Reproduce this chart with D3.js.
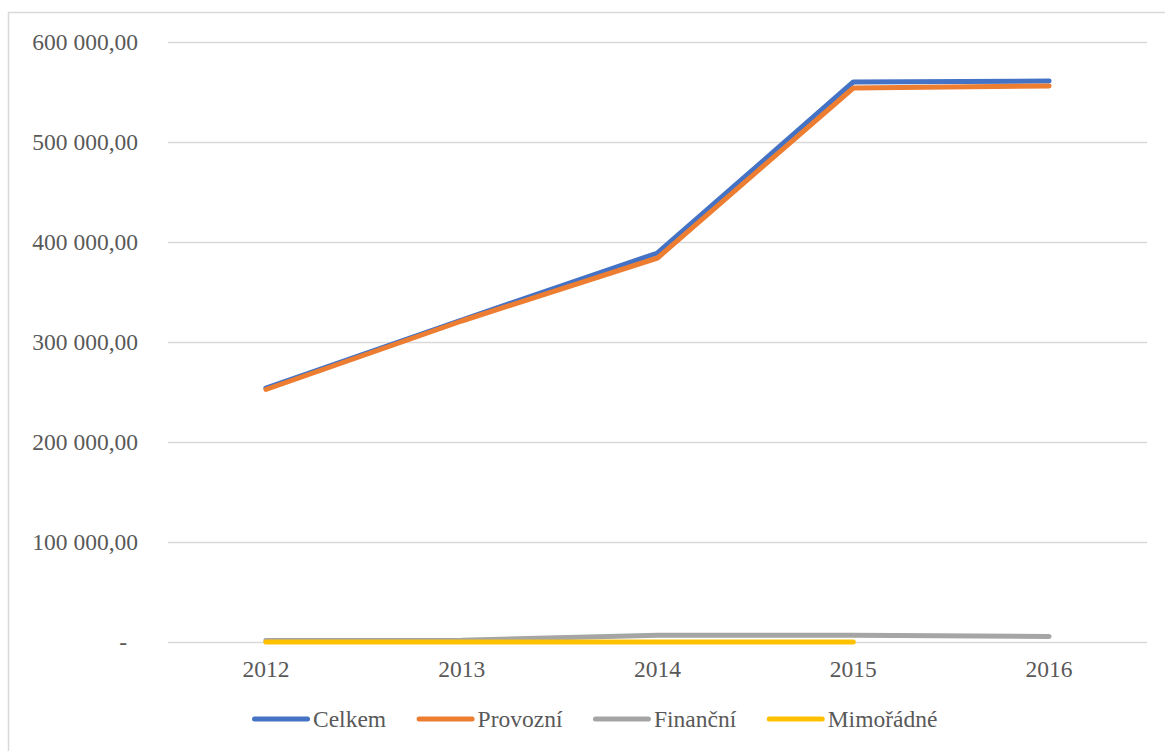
<!DOCTYPE html>
<html><head><meta charset="utf-8">
<script src="https://cdn.jsdelivr.net/npm/d3@7"></script>
<style>body{margin:0;background:#fff}svg{display:block}
svg text{font-family:"Liberation Serif","Times New Roman",serif !important;}</style>
</head><body>
<svg id="chart" width="1165" height="751"></svg>
<script>
const years = ["2012","2013","2014","2015","2016"];
const celkem = [254000, 322000, 389000, 560000, 561000];
const provozni = [252500, 321000, 384000, 554000, 556000];
const financni = [1500, 1800, 6800, 6800, 5500];
const mimoradne = [0, 0, 0, 0, null];
const yTicks = [0, 100000, 200000, 300000, 400000, 500000, 600000];
const yTickLabels = ["-", "100 000,00", "200 000,00", "300 000,00", "400 000,00", "500 000,00", "600 000,00"];
const seriesNames = ["Celkem", "Provozní", "Finanční", "Mimořádné"];
const colors = ["#4472C4", "#ED7D31", "#A5A5A5", "#FFC000"];

const svg = d3.select("#chart");
svg.append("rect").attr("x",8.5).attr("y",12.5).attr("width",1170).attr("height",760)
  .attr("fill","#fff").attr("stroke","#D9D9D9").attr("stroke-width",1.5);

const x = d3.scaleBand().domain(years).range([168,1147]);
const y = d3.scaleLinear().domain([0,600000]).range([642,42]);

svg.append("g").selectAll("line").data(yTicks).join("line")
  .attr("x1",168).attr("x2",1147)
  .attr("y1",d=>Math.round(y(d))+0.5).attr("y2",d=>Math.round(y(d))+0.5)
  .attr("stroke","#D9D9D9").attr("stroke-width",1.5);

const yAxis = d3.axisLeft(y).tickValues(yTicks).tickSize(0).tickPadding(0)
  .tickFormat((d,i)=>yTickLabels[i]);
const yg = svg.append("g").attr("transform","translate(138,0)").call(yAxis);
yg.select(".domain").remove();
yg.selectAll("text").attr("font-size","23.5px").attr("fill","#595959")
  .attr("dy","0.32em")
  .attr("x",(d)=>d===0?-11:0);

const xAxis = d3.axisBottom(x).tickSize(0).tickPadding(0);
const xg = svg.append("g").attr("transform","translate(0,660)").call(xAxis);
xg.select(".domain").remove();
xg.selectAll("text").attr("font-size","23.5px").attr("fill","#595959")
  .attr("dy","0.71em");

const allSeries = [celkem, provozni, financni, mimoradne];
const line = d3.line().defined(d=>d!=null)
  .x((d,i)=>x(years[i])+x.bandwidth()/2).y(d=>y(d));

allSeries.forEach((s,k)=>{
  svg.append("path").datum(s).attr("d",line)
    .attr("fill","none").attr("stroke",colors[k]).attr("stroke-width",5)
    .attr("stroke-linecap","round").attr("stroke-linejoin","round");
});

const lg = svg.append("g");
const legendY = 719;
let cx = 254.5;
seriesNames.forEach((name,k)=>{
  const g = lg.append("g");
  g.append("line").attr("x1",cx).attr("x2",cx+53).attr("y1",legendY).attr("y2",legendY)
    .attr("stroke",colors[k]).attr("stroke-width",5).attr("stroke-linecap","round");
  const t = g.append("text").attr("x",cx+58.5).attr("y",legendY).attr("dy","0.34em")
    .attr("font-size","23.5px").attr("fill","#595959").text(name);
  const w = t.node().getComputedTextLength();
  cx += 58.5 + w + 33;
});
</script>
</body></html>
